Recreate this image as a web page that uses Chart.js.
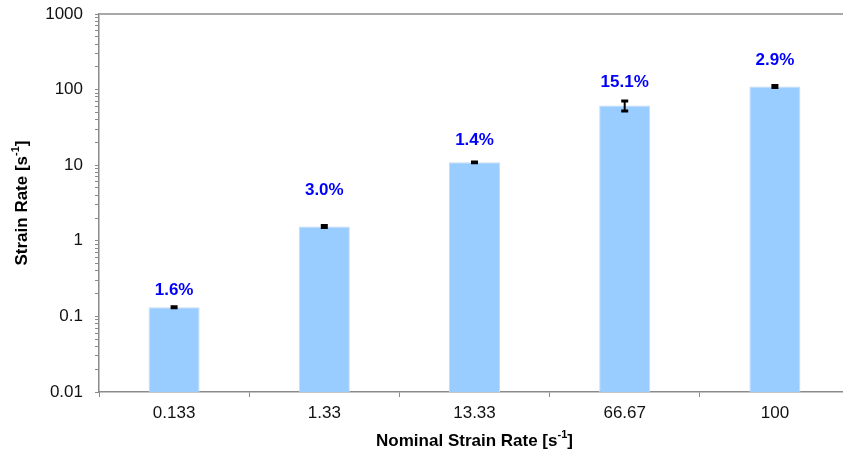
<!DOCTYPE html>
<html>
<head>
<meta charset="utf-8">
<script src="https://cdn.jsdelivr.net/npm/chart.js@4.4.1/dist/chart.umd.min.js"></script>
<style>
  html, body { margin: 0; padding: 0; background: #fff; }
  #wrap { width: 843px; height: 458px; overflow: hidden; }
  canvas { display: block; }
</style>
</head>
<body>
<div id="wrap"><canvas id="rates" width="851" height="458"></canvas></div>
<script>
// nominal rates on the x axis, measured mean rate and its scatter (percent)
const nominalRates = ['0.133', '1.33', '13.33', '66.67', '100'];
const measuredRates = [0.132, 1.55, 10.9, 61.5, 110];
const scatterPct = [1.6, 3.0, 1.4, 15.1, 2.9];

// decades shown on the log axis
const decadeValues = [0.01, 0.1, 1, 10, 100, 1000];
const decadeLabels = ['0.01', '0.1', '1', '10', '100', '1000'];

// how far above each bar its percent label sits (px)
const labelLift = [17, 36, 22, 23, 26];

const axisColor = '#8a8a8a';
const fontFamily = '"Liberation Sans", Arial, sans-serif';

function logTicks() {
  const ticks = [];
  for (let e = -2; e < 3; e++) {
    for (let s = 1; s < 10; s++) ticks.push({ value: s * Math.pow(10, e) });
  }
  ticks.push({ value: 1000 });
  return ticks;
}

// text with a raised "-1" exponent, e.g. [s-1]
function drawUnitText(ctx, before, sup, after, x, y) {
  const big = 'bold 17px ' + fontFamily;
  const small = 'bold 11px ' + fontFamily;
  ctx.font = big;
  const w1 = ctx.measureText(before).width;
  const w3 = ctx.measureText(after).width;
  ctx.font = small;
  const w2 = ctx.measureText(sup).width;
  let cx = x - (w1 + w2 + w3) / 2;
  ctx.textAlign = 'left';
  ctx.textBaseline = 'middle';
  ctx.font = big;
  ctx.fillText(before, cx, y);
  cx += w1;
  ctx.font = small;
  ctx.fillText(sup, cx, y - 6);
  cx += w2;
  ctx.font = big;
  ctx.fillText(after, cx, y);
}

const extras = {
  id: 'extras',
  afterDatasetsDraw(chart) {
    const ctx = chart.ctx;
    const y = chart.scales.y;
    const meta = chart.getDatasetMeta(0);
    ctx.save();
    meta.data.forEach((bar, i) => {
      const v = measuredRates[i];
      const err = v * scatterPct[i] / 100;
      const yHi = y.getPixelForValue(v + err);
      const yLo = y.getPixelForValue(v - err);
      // error bar: stem plus heavy caps
      ctx.strokeStyle = '#000';
      ctx.lineWidth = 2;
      ctx.beginPath();
      ctx.moveTo(bar.x, yHi);
      ctx.lineTo(bar.x, yLo);
      ctx.stroke();
      ctx.lineWidth = 3;
      ctx.beginPath();
      ctx.moveTo(bar.x - 3.5, yHi);
      ctx.lineTo(bar.x + 3.5, yHi);
      ctx.moveTo(bar.x - 3.5, yLo);
      ctx.lineTo(bar.x + 3.5, yLo);
      ctx.stroke();
      // percent label
      ctx.fillStyle = '#0000ff';
      ctx.font = 'bold 17px ' + fontFamily;
      ctx.textAlign = 'center';
      ctx.textBaseline = 'middle';
      ctx.fillText(scatterPct[i].toFixed(1) + '%', bar.x, bar.y - labelLift[i]);
    });
    ctx.restore();
  },
  afterDraw(chart) {
    const ctx = chart.ctx;
    const a = chart.chartArea;
    ctx.save();
    // top frame line
    ctx.strokeStyle = '#a8a8a8';
    ctx.lineWidth = 2;
    ctx.beginPath();
    ctx.moveTo(a.left, a.top);
    ctx.lineTo(chart.width, a.top);
    ctx.stroke();
    // axis titles
    ctx.fillStyle = '#000';
    drawUnitText(ctx, 'Nominal Strain Rate [s', '-1', ']', (a.left + a.right) / 2, 441);
    ctx.translate(22, (a.top + a.bottom) / 2);
    ctx.rotate(-Math.PI / 2);
    drawUnitText(ctx, 'Strain Rate [s', '-1', ']', 0, 0);
    ctx.restore();
  }
};

new Chart(document.getElementById('rates'), {
  type: 'bar',
  data: {
    labels: nominalRates,
    datasets: [{
      data: measuredRates,
      backgroundColor: '#99ccff',
      borderColor: '#c9dcef',
      borderWidth: 1,
      barPercentage: 0.34,
      categoryPercentage: 1.0
    }]
  },
  options: {
    responsive: false,
    animation: false,
    devicePixelRatio: 1,
    layout: { padding: { top: 14, right: 1, left: 0, bottom: 0 } },
    plugins: {
      legend: { display: false },
      tooltip: { enabled: false }
    },
    scales: {
      x: {
        grid: {
          offset: true,
          drawOnChartArea: false,
          tickLength: 5,
          color: axisColor
        },
        border: { color: axisColor, width: 1.5 },
        ticks: {
          color: '#111',
          font: { family: fontFamily, size: 17 },
          padding: 6,
          maxRotation: 0
        },
        afterFit(scale) { scale.height = 66; }
      },
      y: {
        type: 'logarithmic',
        min: 0.01,
        max: 1000,
        afterBuildTicks(scale) { scale.ticks = logTicks(); },
        grid: {
          drawOnChartArea: false,
          tickLength: 4,
          color: axisColor
        },
        border: { color: axisColor, width: 1.5 },
        ticks: {
          autoSkip: false,
          color: '#111',
          font: { family: fontFamily, size: 17 },
          padding: 12,
          callback(value) {
            const i = decadeValues.findIndex(d => Math.abs(d - value) < d * 1e-6);
            return i >= 0 ? decadeLabels[i] : '';
          }
        },
        afterFit(scale) {
          scale.width = 99;
          scale.paddingTop = 0;
          scale.paddingBottom = 0;
        }
      }
    }
  },
  plugins: [extras]
});
</script>
</body>
</html>
